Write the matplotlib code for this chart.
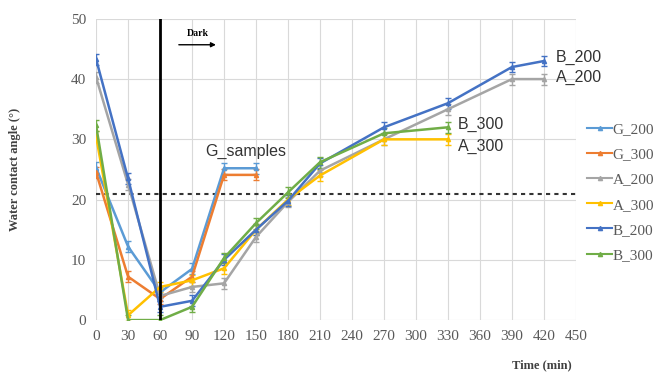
import numpy as np
import matplotlib
matplotlib.use("Agg")
import matplotlib.pyplot as plt

# time points (min)
t_g = [0, 30, 60, 90, 120, 150]
t_ab = [0, 30, 60, 90, 120, 150, 180, 210, 270, 330]
t_ab2 = [0, 30, 60, 90, 120, 150, 180, 210, 270, 330, 390, 420]

# water contact angle (deg)
g_200 = [25.3, 12.2, 4.6, 8.5, 25.2, 25.2]
g_300 = [24.5, 7.2, 3.5, 7.2, 24.1, 24.1]
a_200 = [40.3, 22.5, 4.0, 5.5, 6.1, 13.8, 19.6, 24.8, 30.0, 35.0, 40.0, 40.0]
a_300 = [30.5, 0.8, 5.5, 6.6, 8.6, 15.0, 20.0, 24.0, 30.0, 30.0]
b_200 = [43.3, 23.5, 2.2, 3.2, 10.0, 15.0, 19.8, 26.0, 32.0, 36.0, 42.0, 43.0]
b_300 = [32.3, 0.0, 0.0, 2.2, 10.3, 16.1, 21.2, 26.2, 31.0, 32.0]

series = [
    ("G_200", t_g, g_200, "#5B9BD5"),
    ("G_300", t_g, g_300, "#ED7D31"),
    ("A_200", t_ab2, a_200, "#A5A5A5"),
    ("A_300", t_ab, a_300, "#FFC000"),
    ("B_200", t_ab2, b_200, "#4472C4"),
    ("B_300", t_ab, b_300, "#70AD47"),
]
err = 0.9

plt.rcParams['font.family'] = ['Liberation Serif', 'DejaVu Serif']

fig = plt.figure(figsize=(6.72, 3.77), dpi=100)
ax = fig.add_axes([0.143, 0.151, 0.714, 0.799])

handles = []
for name, t, y, c in series:
    ax.errorbar(t, y, yerr=err, color=c, lw=1.8, capsize=2, elinewidth=1,
                capthick=1, marker='^', ms=3, zorder=3)
    h, = ax.plot([], [], color=c, lw=1.5, marker='^', ms=3, label=name)
    handles.append(h)

# light/dark boundary and threshold line
ax.plot([60, 60], [0, 50], color='black', lw=2, zorder=4)
ax.axhline(21, xmin=0, xmax=1.005, color='#333333', lw=1.5, ls=(0, (2, 2)),
           zorder=2, clip_on=False)

ax.annotate('', xy=(115, 45.7), xytext=(75, 45.7),
            arrowprops=dict(arrowstyle='-|>', color='black', lw=1, mutation_scale=7))
ax.text(95, 47.6, 'Dark', fontsize=7, fontweight='bold', ha='center', va='center')

lab = dict(fontsize=11.5, family=['Liberation Sans', 'DejaVu Sans'], color='#333333',
           va='center')
ax.text(140, 28.0, 'G_samples', ha='center', **lab)
ax.text(431, 43.6, 'B_200', ha='left', **lab)
ax.text(431, 40.2, 'A_200', ha='left', **lab)
ax.text(339, 32.5, 'B_300', ha='left', **lab)
ax.text(339, 28.8, 'A_300', ha='left', **lab)

ax.set_xlim(0, 450)
ax.set_ylim(0, 50)
ax.set_xticks(np.arange(0, 451, 30))
ax.set_yticks(np.arange(0, 51, 10))
ax.grid(True, color='#D9D9D9', lw=0.8)
ax.set_axisbelow(True)
for s in ax.spines.values():
    s.set_visible(False)
ax.tick_params(length=0, labelsize=11, colors='#595959', pad=7)

ax.set_ylabel('Water contact angle (°)', fontsize=9, fontweight='bold',
              color='#404040', labelpad=36)
fig.text(0.85, 0.03, 'Time (min)', fontsize=9, fontweight='bold',
         color='#404040', ha='right', va='center')

fig.legend(handles=handles, loc='center left', bbox_to_anchor=(0.865, 0.49),
           frameon=False, fontsize=11, labelspacing=0.75, handlelength=1.6,
           handletextpad=0.05, borderaxespad=0, labelcolor='#595959')

fig.savefig('out.png', dpi=100)
